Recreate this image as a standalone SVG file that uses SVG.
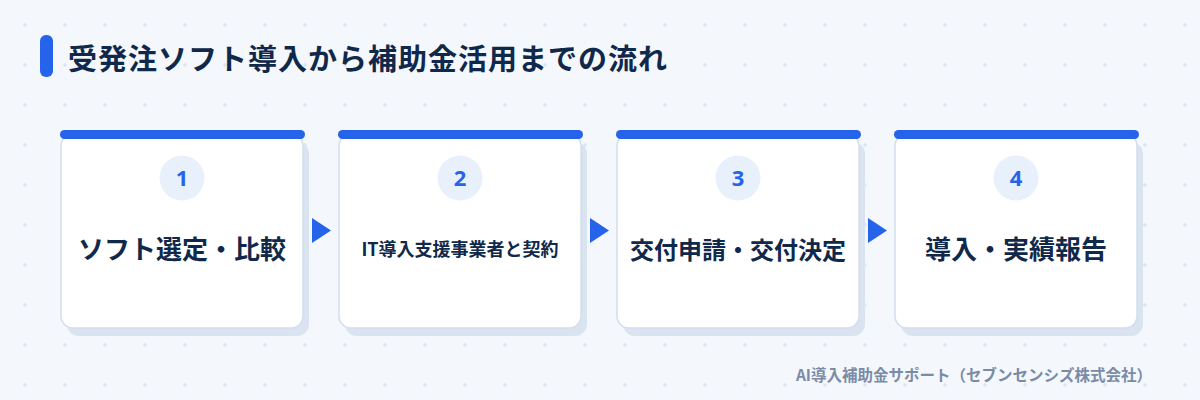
<svg xmlns="http://www.w3.org/2000/svg" width="1200" height="400" viewBox="0 0 1200 400">
  <style>
    .ttl{font-family:"Noto Sans CJK JP","Noto Sans",sans-serif;font-weight:700;fill:#10284a}
    .lbl{font-family:"Noto Sans CJK JP","Noto Sans",sans-serif;font-weight:700;fill:#10284a;text-anchor:middle}
    .num{font-family:"Noto Sans","Noto Sans CJK JP",sans-serif;font-weight:700;fill:#2563eb;text-anchor:middle;font-size:22px}
    .card{fill:#ffffff;stroke:#d3deee;stroke-width:1.5}
    .shadow{fill:#dae3f0}
    .bar{fill:#2563eb}
    .badge{fill:#e8f0fc}
    .arrow{fill:#2563eb}
    .foot{font-family:"Noto Sans CJK JP","Noto Sans",sans-serif;font-weight:700;fill:#7b8ba6;font-size:15.5px;text-anchor:end}
  </style>
  <defs>
    <pattern id="grid" x="0" y="0" width="40" height="40" patternUnits="userSpaceOnUse">
      <path d="M25 23v4M23 25h4" stroke="#d6dfeb" stroke-width="1"/>
    </pattern>
  </defs>
  <rect width="1200" height="400" fill="#f4f7fc"/>
  <rect width="1200" height="400" fill="url(#grid)"/>

  <g id="title">
    <rect x="40" y="35" width="13" height="42" rx="6" fill="#2563eb"/>
    <text class="ttl" x="68" y="70" font-size="29" letter-spacing="1">受発注ソフト導入から補助金活用までの流れ</text>
  </g>

  <g id="step1">
    <rect class="shadow" x="67" y="142" width="242" height="194" rx="12"/>
    <rect class="card" x="61" y="134" width="242" height="194" rx="12"/>
    <rect class="bar" x="60" y="130" width="245" height="9" rx="4.5"/>
    <circle class="badge" cx="182" cy="178" r="22.5"/>
    <text class="num" x="182" y="186">1</text>
    <text class="lbl" x="182" y="259" font-size="26">ソフト選定・比較</text>
  </g>

  <g id="step2">
    <rect class="shadow" x="345" y="142" width="242" height="194" rx="12"/>
    <rect class="card" x="339" y="134" width="242" height="194" rx="12"/>
    <rect class="bar" x="338" y="130" width="245" height="9" rx="4.5"/>
    <circle class="badge" cx="460" cy="178" r="22.5"/>
    <text class="num" x="460" y="186">2</text>
    <text class="lbl" x="460" y="256" font-size="18">IT導入支援事業者と契約</text>
  </g>

  <g id="step3">
    <rect class="shadow" x="623" y="142" width="242" height="194" rx="12"/>
    <rect class="card" x="617" y="134" width="242" height="194" rx="12"/>
    <rect class="bar" x="616" y="130" width="245" height="9" rx="4.5"/>
    <circle class="badge" cx="738" cy="178" r="22.5"/>
    <text class="num" x="738" y="186">3</text>
    <text class="lbl" x="738" y="259" font-size="24">交付申請・交付決定</text>
  </g>

  <g id="step4">
    <rect class="shadow" x="901" y="142" width="242" height="194" rx="12"/>
    <rect class="card" x="895" y="134" width="242" height="194" rx="12"/>
    <rect class="bar" x="894" y="130" width="245" height="9" rx="4.5"/>
    <circle class="badge" cx="1016" cy="178" r="22.5"/>
    <text class="num" x="1016" y="186">4</text>
    <text class="lbl" x="1016" y="259" font-size="26">導入・実績報告</text>
  </g>

  <g id="connectors">
    <polygon class="arrow" points="312,218 331,230.5 312,243"/>
    <polygon class="arrow" points="590,218 609,230.5 590,243"/>
    <polygon class="arrow" points="868,218 887,230.5 868,243"/>
  </g>

  <g id="footer">
    <text class="foot" x="1152" y="381">AI導入補助金サポート（セブンセンシズ株式会社）</text>
  </g>
</svg>
